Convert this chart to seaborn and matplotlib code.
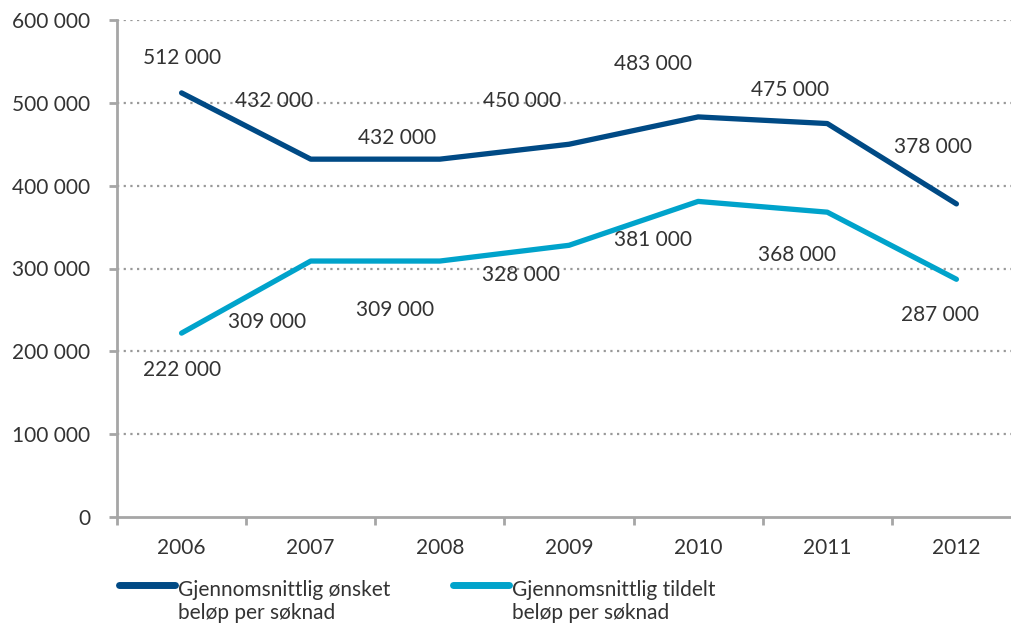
import numpy as np
import pandas as pd
import seaborn as sns
import matplotlib.pyplot as plt
from matplotlib.lines import Line2D
from matplotlib.legend_handler import HandlerLine2D

# --- data ---
years = ['2006', '2007', '2008', '2009', '2010', '2011', '2012']
onsket = [512000, 432000, 432000, 450000, 483000, 475000, 378000]
tildelt = [222000, 309000, 309000, 328000, 381000, 368000, 287000]
series_names = ['Gjennomsnittlig ønsket\nbeløp per søknad',
                'Gjennomsnittlig tildelt\nbeløp per søknad']

# label offsets in pixels (dx, dy) relative to each point
onsket_offsets = [(0, 35), (-37, 58), (-43, 21), (-47, 43), (-45, 53), (-37, 34), (-23, 57)]
tildelt_offsets = [(0, -37), (-44, -61), (-45, -49), (-48, -30), (-45, -39), (-30, -43), (-16, -36)]

dark = '#004A85'
light = '#00A3CB'
grey = '#a6a6a6'
text_col = '#333333'
fs = 15

df = pd.DataFrame({
    'year': years * 2,
    'value': onsket + tildelt,
    'series': [series_names[0]] * len(years) + [series_names[1]] * len(years),
})

sns.set_theme(style='white')
plt.rcParams['font.family'] = ['Lato', 'DejaVu Sans']
plt.rcParams['text.color'] = text_col


class TopLineHandler(HandlerLine2D):
    # put the legend line next to the first line of a two-line label
    def create_artists(self, legend, orig_handle, xdescent, ydescent,
                       width, height, fontsize, trans):
        artists = super().create_artists(legend, orig_handle, xdescent, ydescent,
                                         width, height, fontsize, trans)
        for a in artists:
            a.set_ydata(np.asarray(a.get_ydata()) + fontsize * 0.8)
        return artists


fig = plt.figure(figsize=(10.12, 6.25), dpi=100)
ax = fig.add_axes([117 / 1012, 108 / 625, (1021 - 117) / 1012, 497 / 625])

sns.lineplot(data=df, x='year', y='value', hue='series', palette=[dark, light],
             sort=False, linewidth=3.8, legend=False, ax=ax)

ax.set_xlim(-0.5, 6.5)
ax.set_ylim(0, 600000)
ax.set_xlabel('')
ax.set_ylabel('')

yt = np.arange(0, 600001, 100000)
ax.set_yticks(yt)
ax.set_yticklabels([f'{v:,}'.replace(',', ' ') for v in yt])
ax.set_xticks(range(len(years)))
ax.set_xticklabels(years)
ax.set_xticks(np.arange(-0.5, len(years)), minor=True)
ax.tick_params(axis='x', which='major', length=0, pad=15, labelsize=fs, labelcolor=text_col)
ax.tick_params(axis='x', which='minor', length=6, width=2, color=grey, bottom=True)
ax.tick_params(axis='y', length=6, width=2, color=grey, left=True, pad=13,
               labelsize=fs, labelcolor=text_col)

for gy in yt[1:]:
    ax.axhline(gy, color='#999999', linestyle=(0, (1, 2)), linewidth=1.6, zorder=0)

for s in ['top', 'right']:
    ax.spines[s].set_visible(False)
for s in ['left', 'bottom']:
    ax.spines[s].set_color(grey)
    ax.spines[s].set_linewidth(2)

for vals, offs in [(onsket, onsket_offsets), (tildelt, tildelt_offsets)]:
    for i, (v, (dx, dy)) in enumerate(zip(vals, offs)):
        ax.annotate(f'{v:,}'.replace(',', ' '), (i, v), xytext=(dx, dy),
                    textcoords='offset pixels', ha='center', va='center',
                    fontsize=fs, color=text_col)

handles = [Line2D([0], [0], color=dark, lw=5, solid_capstyle='round'),
           Line2D([0], [0], color=light, lw=5, solid_capstyle='round')]
fig.legend(handles, series_names, loc='upper left',
           bbox_to_anchor=(100 / 1012, 1 - 561 / 625), ncol=2, frameon=False,
           handlelength=2.7, handletextpad=0.15, columnspacing=3.0,
           fontsize=fs, labelspacing=0.2,
           handler_map={Line2D: TopLineHandler()})

fig.savefig('out.png', dpi=100)
